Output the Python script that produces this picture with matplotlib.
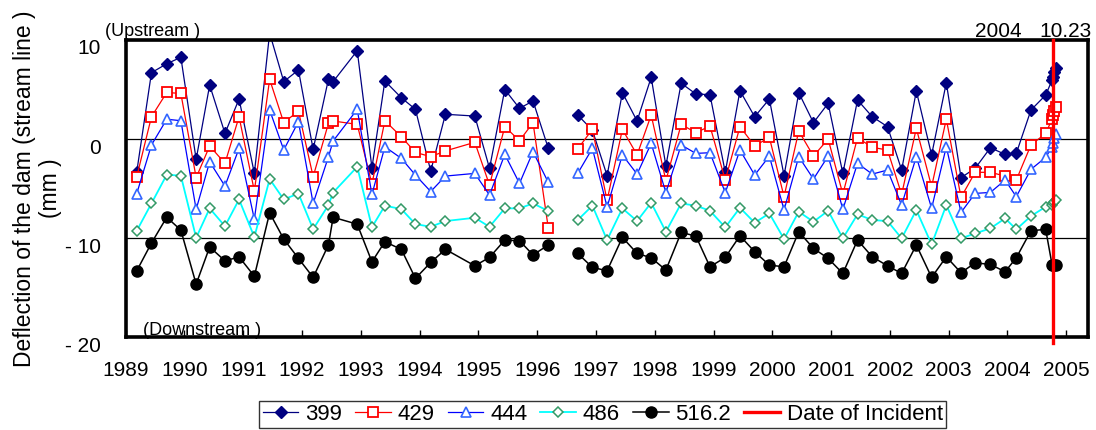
import numpy as np
import matplotlib.pyplot as plt
import matplotlib.transforms as mtransforms

plt.rcParams['font.family'] = ['Liberation Sans', 'DejaVu Sans']

# survey dates (decimal years); NaN row in 1996 breaks the lines
dates = [1989.19, 1989.44, 1989.70, 1989.94, 1990.20, 1990.43, 1990.69, 1990.93,
         1991.19, 1991.45, 1991.69, 1991.94, 1992.19, 1992.45, 1992.53, 1992.94,
         1993.19, 1993.41, 1993.69, 1993.93, 1994.19, 1994.44, 1994.94, 1995.19,
         1995.45, 1995.70, 1995.93, 1996.19, 1996.44,
         1996.69, 1996.94, 1997.19, 1997.45, 1997.70, 1997.94, 1998.19, 1998.45,
         1998.70, 1998.94, 1999.20, 1999.45, 1999.70, 1999.95, 2000.20, 2000.45,
         2000.70, 2000.95, 2001.20, 2001.45, 2001.70, 2001.96, 2002.20, 2002.45,
         2002.71, 2002.96, 2003.21, 2003.45, 2003.71, 2003.96, 2004.15, 2004.40,
         2004.65, 2004.76, 2004.78, 2004.80, 2004.83]

nan = np.nan
s399 = [-3.3, 6.7, 7.6, 8.25, -2.05, 5.45, 0.57, 4.04, -3.47, 10.7, 5.8, 6.97,
        -1.04, 6.03, 5.8, 8.92, -2.9, 5.86, 4.17, 3.0, -3.23, 2.5, 2.32, -2.96,
        5.0, 3.1, 3.84, -0.94, nan,
        2.42, 0.9, -3.7, 4.68, 1.82, 6.23, -2.7, 5.63, 4.55, 4.48, -3.36, 4.88,
        2.25, 4.04, -3.7, 4.68, 1.65, 3.6, -3.47, 3.94, 2.25, 1.25, -3.13, 4.85,
        -1.6, 5.69, -3.9, -2.96, -0.88, -1.55, -1.45, 2.93, 4.44, 5.96, 6.3,
        6.8, 7.14]
s429 = [-3.8, 2.25, 4.7, 4.6, -3.9, -0.7, -2.45, 2.25, -5.25, 6.03, 1.65, 2.83,
        -3.8, 1.58, 1.82, 1.48, -4.55, 1.85, 0.23, -1.35, -1.78, -1.2, -0.33,
        -4.65, 1.25, -0.17, 1.65, -9.0, nan,
        -1.0, 0.98, -6.2, 0.98, -1.6, 2.42, -4.2, 1.48, 0.64, 1.31, -4.14, 1.25,
        -0.7, 0.17, -5.82, 0.81, -1.72, 0.0, -5.56, 0.13, -0.84, -1.11, -5.59,
        1.08, -4.81, 2.02, -5.89, -3.36, -3.36, -3.74, -4.14, -0.6, 0.57, 2.02,
        2.42, 2.83, 3.26]
s444 = [-5.5, -0.6, 2.0, 1.85, -7.1, -2.3, -4.75, -0.94, -8.1, 2.93, -1.1, 1.75,
        -6.5, -1.8, -0.2, 3.0, -5.6, -0.78, -1.95, -3.64, -5.3, -3.74, -3.47,
        -5.66, -1.55, -4.48, -1.28, -4.38, nan,
        -3.47, -0.94, -6.87, -1.6, -3.54, -0.44, -5.42, -0.6, -1.45, -1.38,
        -5.42, -1.11, -3.64, -1.72, -7.17, -1.78, -4.04, -1.72, -7.1, -2.45,
        -3.54, -3.13, -6.67, -1.78, -7.0, -0.78, -7.41, -5.49, -5.39, -4.14,
        -5.82, -3.06, -1.85, -0.78, -0.37, 0.07, 0.5]
s486 = [-9.26, -6.5, -3.6, -3.7, -9.97, -7.0, -8.8, -6.1, -9.9, -4.04, -6.1, -5.5,
        -9.1, -6.67, -5.4, -2.8, -8.9, -6.73, -7.07, -8.59, -8.86, -8.28, -7.95,
        -8.86, -7.0, -7.0, -6.5, -7.27, nan,
        -8.18, -6.73, -10.2, -7.0, -8.28, -6.43, -9.36, -6.5, -6.73, -7.24,
        -8.92, -6.94, -8.45, -7.51, -10.1, -7.34, -8.35, -7.24, -10.03, -7.6,
        -8.18, -8.28, -10.03, -7.17, -10.64, -6.67, -10.03, -9.53, -9.02, -8.01,
        -9.12, -7.78, -6.84, -6.67, -6.5, -6.33, -6.16]
s516 = [-13.3, -10.5, -7.9, -9.2, -14.65, -10.9, -12.3, -11.9, -13.85, -7.45,
        -10.1, -12.05, -13.97, -10.7, -7.9, -8.6, -12.4, -10.37, -11.14, -14.07,
        -12.46, -11.14, -12.8, -11.95, -10.2, -10.27, -11.7, -10.7, nan,
        -11.55, -12.96, -13.3, -9.93, -11.55, -11.99, -13.23, -9.43, -9.8, -12.9,
        -11.95, -9.77, -11.38, -12.73, -12.9, -9.36, -11.04, -12.05, -13.57,
        -10.2, -11.89, -12.8, -13.57, -10.7, -13.97, -11.89, -13.5, -12.5,
        -12.66, -13.4, -11.99, -9.26, -9.12, -12.73, -12.7, -12.75, -12.7]

incident = 2004.78
years = list(range(1989, 2006))
yticks = [10, 0, -10, -20]
ytick_labels = ["10", "0", "- 10", "- 20"]

fig = plt.figure(figsize=(10.96, 4.3), dpi=100)
ax = fig.add_axes([0.1146, 0.216, 0.8781, 0.691])

ax.plot(dates, s399, color='#000080', lw=0.9, marker='D', ms=6.5,
        mfc='#000080', mec='#000080', label='399')
ax.plot(dates, s429, color='#ff0000', lw=0.9, marker='s', ms=7.5,
        mfc='white', mec='#ff0000', mew=1.3, label='429')
ax.plot(dates, s444, color='#0000ff', lw=0.9, marker='^', ms=7.5,
        mfc='white', mec='#3366ff', mew=1.2, label='444')
ax.plot(dates, s486, color='#00ffff', lw=1.3, marker='D', ms=5,
        mfc='white', mec='#339966', mew=1.1, label='486')
ax.plot(dates, s516, color='black', lw=1.1, marker='o', ms=8,
        mfc='black', mec='black', label='516.2')
ax.axvline(incident, ymin=-0.02, ymax=1, color='#ff0000', lw=2.4,
           clip_on=False, label='Date of Incident', zorder=5)

ax.set_xlim(1989, 2005.37)
ax.set_ylim(-20, 10)
ax.set_xticks(years)
ax.set_xticklabels([str(y) for y in years], fontsize=15)
ax.set_yticks(yticks)
ax.set_yticklabels(ytick_labels, fontsize=15)
ax.tick_params(axis='x', direction='in', length=5, width=1, pad=17)
ax.tick_params(axis='y', length=0, pad=18)
shift = mtransforms.ScaledTranslation(0, -7 / 100, fig.dpi_scale_trans)
for lab in ax.get_yticklabels():
    lab.set_transform(lab.get_transform() + shift)

ax.yaxis.grid(True, color='black', lw=0.9)
ax.set_axisbelow(True)
for sp in ax.spines.values():
    sp.set_linewidth(2.6)

ax.set_ylabel("Deflection of the dam (stream line )\n(mm )", fontsize=16.5,
              labelpad=2, linespacing=1.15)

ax.text(-0.021, 1.012, "(Upstream )", transform=ax.transAxes, fontsize=13,
        ha='left', va='baseline')
ax.text(0.018, -0.006, "(Downstream )", transform=ax.transAxes, fontsize=13,
        ha='left', va='bottom')
ax.text(2003.85, 10.35, "2004", fontsize=15, ha='center', va='baseline')
ax.text(incident + 0.2, 10.35, "10.23", fontsize=15, ha='center', va='baseline')

leg = fig.legend(loc='lower center', bbox_to_anchor=(0.55, 0.004), ncol=6,
                 fontsize=16, frameon=True, fancybox=False, edgecolor='black',
                 handlelength=1.6, handletextpad=0.3, columnspacing=0.6,
                 borderpad=0.15, borderaxespad=0)
leg.get_frame().set_linewidth(1.0)

fig.savefig("out.png", dpi=100)
